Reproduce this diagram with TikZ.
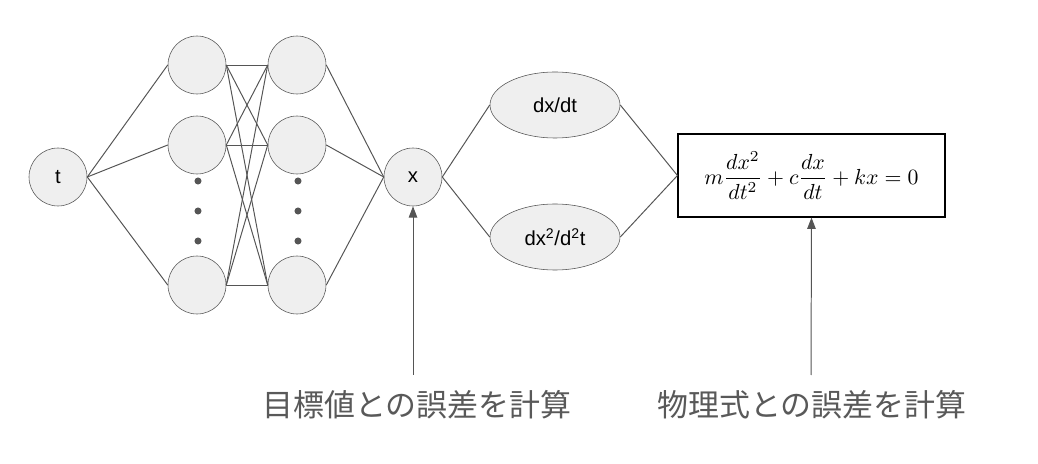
\documentclass[tikz,border=0pt]{standalone}
\usepackage{fontspec}
\setmainfont{Liberation Sans}
\newfontfamily\cjk{Noto Sans CJK JP}
\usetikzlibrary{shapes.geometric,arrows.meta}
\definecolor{nodefill}{HTML}{EFEFEF}
\definecolor{edgegray}{HTML}{555555}
\definecolor{labelgray}{HTML}{595959}
\tikzset{
  unit/.style={circle, draw=edgegray, fill=nodefill, minimum size=58\pxu, inner sep=0pt, font=\Large},
  deriv/.style={ellipse, draw=edgegray, fill=nodefill, minimum width=130\pxu, minimum height=66\pxu, inner sep=0pt, font=\Large},
  link/.style={draw=edgegray, line width=0.7pt},
  dot/.style={circle, fill=edgegray, minimum size=5pt, inner sep=0pt},
}
\newdimen\pxu \pxu=0.025cm
\begin{document}
\begin{tikzpicture}[x=0.025cm, y=-0.025cm]
        \useasboundingbox (0,0) rectangle (1038,464);

        % input and output
        \node[unit] (t) at (58,177) {t};
        \node[unit] (x) at (413,177) {x};

        % hidden layers
        \foreach \i/\y in {1/65, 2/145, 3/285} {
            \node[unit] (a\i) at (197,\y) {};
            \node[unit] (b\i) at (297,\y) {};
        }
        \foreach \y in {181, 211, 241} {
            \node[dot] (da\y) at (198,\y) {};
            \node[dot] (db\y) at (298,\y) {};
        }

        \foreach \i in {1,2,3} {
            \draw[link] (t.east) -- (a\i.west);
            \draw[link] (b\i.east) -- (x.west);
            \foreach \j in {1,2,3}
                \draw[link] (a\i.east) -- (b\j.west);
        }

        % derivatives
        \node[deriv] (v) at (555,105) {dx/dt};
        \node[deriv] (acc) at (555,237) {dx\textsuperscript{2}/d\textsuperscript{2}t};

        \node[draw=black, line width=0.8pt, minimum width=267\pxu, minimum height=83\pxu, inner sep=0pt]
            (eq) at (811.5,175.5) {\scalebox{1.55}{$\displaystyle m\frac{dx^2}{dt^2}+c\frac{dx}{dt}+kx=0$}};

        \draw[link] (x.east) -- (v.west);
        \draw[link] (x.east) -- (acc.west);
        \draw[link] (v.east) -- (eq.west);
        \draw[link] (acc.east) -- (eq.west);

        % error labels
        \node[text=labelgray, font=\cjk\fontsize{22}{26}\selectfont] (e1) at (417,405) {目標値との誤差を計算};
        \node[text=labelgray, font=\cjk\fontsize{22}{26}\selectfont] (e2) at (812,405) {物理式との誤差を計算};
        \coordinate (e1top) at (413,375);
        \coordinate (e2top) at (811,375);
        \draw[link, -{Triangle[length=8pt,width=6pt]}] (e1top) -- (x.south);
        \draw[link, -{Triangle[length=8pt,width=6pt]}] (e2top) -- (eq.south);
\end{tikzpicture}
\end{document}
